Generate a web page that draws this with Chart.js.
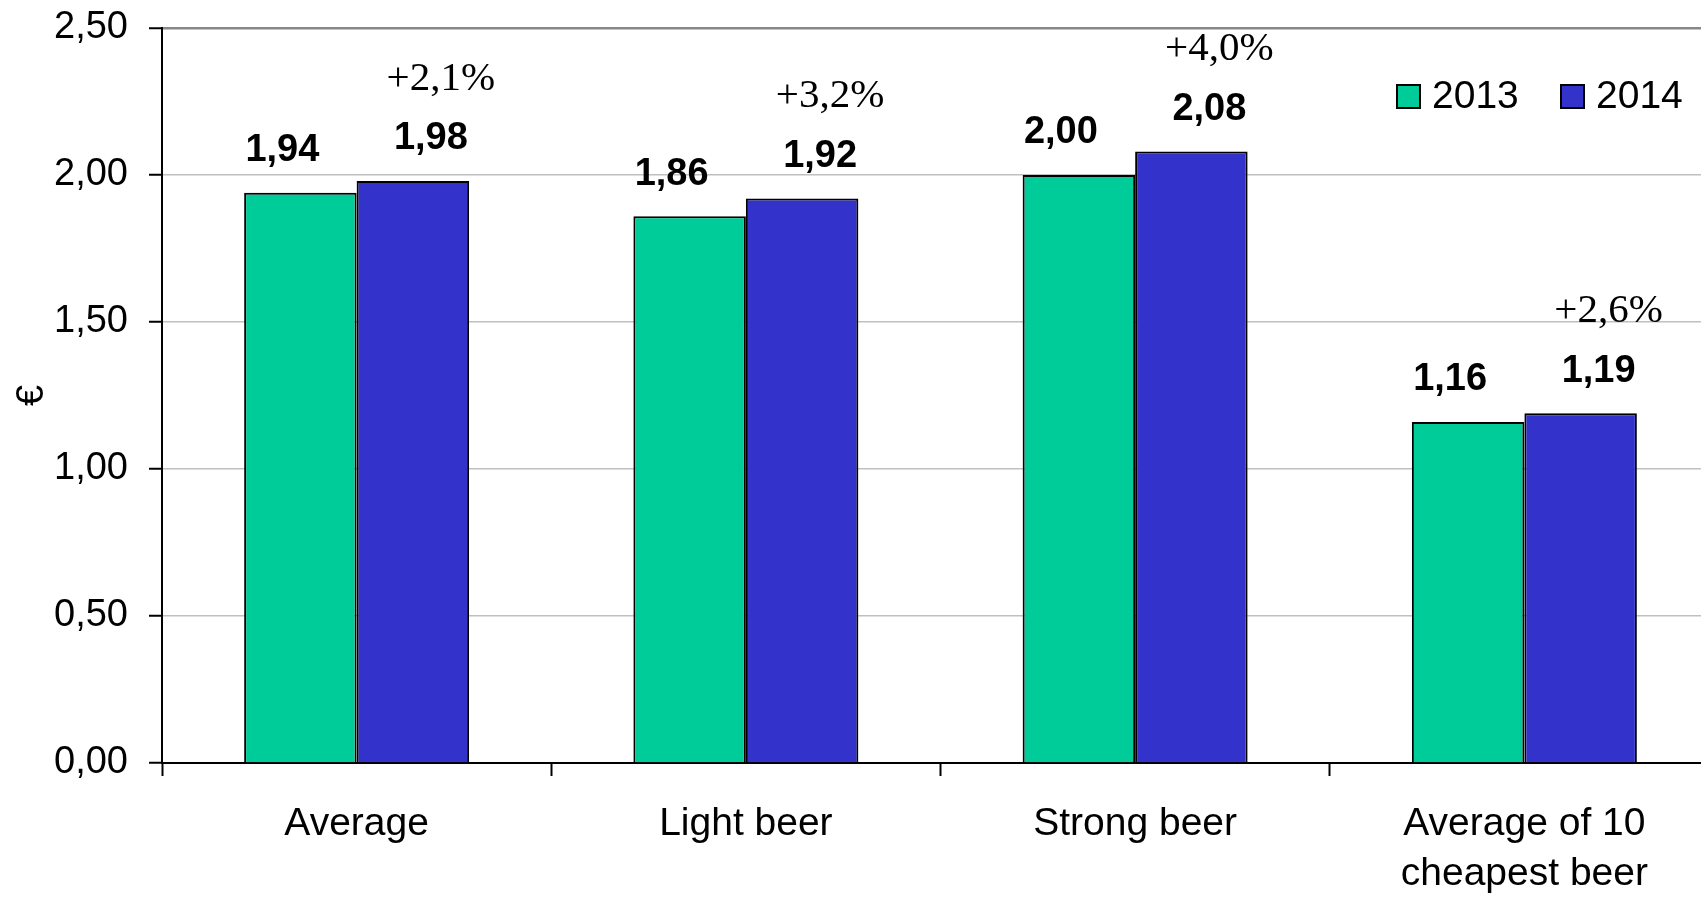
<!DOCTYPE html>
<html>
<head>
<meta charset="utf-8">
<script src="https://cdn.jsdelivr.net/npm/chart.js@4.4.1/dist/chart.umd.min.js"></script>
<style>
  html, body { margin: 0; padding: 0; overflow: hidden; background: #fff; }
  #wrap { width: 1720px; height: 900px; }
</style>
</head>
<body>
<div id="wrap"><canvas id="beerChart" width="1720" height="900"></canvas></div>
<script>
const categories = ["Average", "Light beer", "Strong beer", ["Average of 10", "cheapest beer"]];
const prices2013 = [1.94, 1.86, 2.00, 1.16];
const prices2014 = [1.98, 1.92, 2.08, 1.19];
const changeLabels = ["+2,1%", "+3,2%", "+4,0%", "+2,6%"];
const yTicks = [0, 0.5, 1, 1.5, 2, 2.5];

const fmt = v => v.toFixed(2).replace(".", ",");

// value labels above bars + % change above the 2014 bars
const barLabels = {
  id: "barLabels",
  afterDatasetsDraw(chart) {
    const ctx = chart.ctx;
    ctx.save();
    ctx.textAlign = "center";
    ctx.textBaseline = "middle";
    ctx.fillStyle = "#000";
    chart.data.datasets.forEach((ds, i) => {
      const meta = chart.getDatasetMeta(i);
      const shift = i === 0 ? -18 : 18;
      meta.data.forEach((bar, j) => {
        ctx.font = "bold 38px 'Liberation Sans', Arial, sans-serif";
        ctx.fillText(fmt(ds.data[j]), bar.x + shift, bar.y - 42);
        if (i === 1) {
          ctx.font = "41px 'Liberation Serif', 'Times New Roman', serif";
          ctx.fillText(changeLabels[j], bar.x + 28, bar.y - 102);
        }
      });
    });
    ctx.restore();
  }
};

// legend inside plot, top right
const boxLegend = {
  id: "boxLegend",
  afterDraw(chart) {
    const ctx = chart.ctx;
    const spots = [1397, 1561];
    ctx.save();
    ctx.font = "39px 'Liberation Sans', Arial, sans-serif";
    ctx.textBaseline = "middle";
    ctx.textAlign = "left";
    chart.data.datasets.forEach((ds, i) => {
      const x = spots[i];
      ctx.fillStyle = ds.backgroundColor;
      ctx.fillRect(x, 85, 23, 23);
      ctx.lineWidth = 2;
      ctx.strokeStyle = "#000";
      ctx.strokeRect(x, 85, 23, 23);
      ctx.fillStyle = "#000";
      ctx.fillText(ds.label, x + 35, 97);
    });
    ctx.restore();
  }
};

new Chart(document.getElementById("beerChart"), {
  type: "bar",
  data: {
    labels: categories,
    datasets: [
      {
        label: "2013",
        data: prices2013,
        backgroundColor: "#00CC99",
        borderColor: "#000",
        borderWidth: 2,
      },
      {
        label: "2014",
        data: prices2014,
        backgroundColor: "#3333CC",
        borderColor: "#000",
        borderWidth: 2,
      },
    ],
  },
  options: {
    responsive: false,
    animation: false,
    layout: { padding: { top: 28, right: 1, left: 0, bottom: 0 } },
    plugins: {
      legend: { display: false },
      tooltip: { enabled: false },
    },
    datasets: {
      bar: { categoryPercentage: 0.578, barPercentage: 1 },
    },
    scales: {
      x: {
        afterFit: s => { s.height = 137; },
        grid: {
          offset: true,
          drawOnChartArea: false,
          tickLength: 13,
          tickColor: "#000",
          tickWidth: 2,
        },
        border: { color: "#000", width: 2 },
        ticks: {
          color: "#000",
          padding: 23,
          maxRotation: 0,
          font: { family: "'Liberation Sans', Arial, sans-serif", size: 39, lineHeight: "50px" },
        },
      },
      y: {
        min: 0,
        max: 2.5,
        afterFit: s => { s.width = 162; s.paddingTop = 0; s.paddingBottom = 0; },
        afterBuildTicks: s => { s.ticks = yTicks.map(v => ({ value: v })); },
        grid: {
          color: c => (c.tick && c.tick.value === 2.5 ? "#888" : "#c0c0c0"),
          lineWidth: c => (c.tick && c.tick.value === 2.5 ? 2.5 : 1.5),
          tickLength: 13,
          tickColor: "#000",
          tickWidth: 2,
        },
        border: { color: "#000", width: 2 },
        ticks: {
          color: "#000",
          padding: 21,
          callback: v => fmt(v),
          font: { family: "'Liberation Sans', Arial, sans-serif", size: 38 },
        },
        title: {
          display: true,
          text: "€",
          color: "#000",
          padding: { top: 10, bottom: 0 },
          font: { family: "'Liberation Sans', Arial, sans-serif", size: 38 },
        },
      },
    },
  },
  plugins: [barLabels, boxLegend],
});
</script>
</body>
</html>
